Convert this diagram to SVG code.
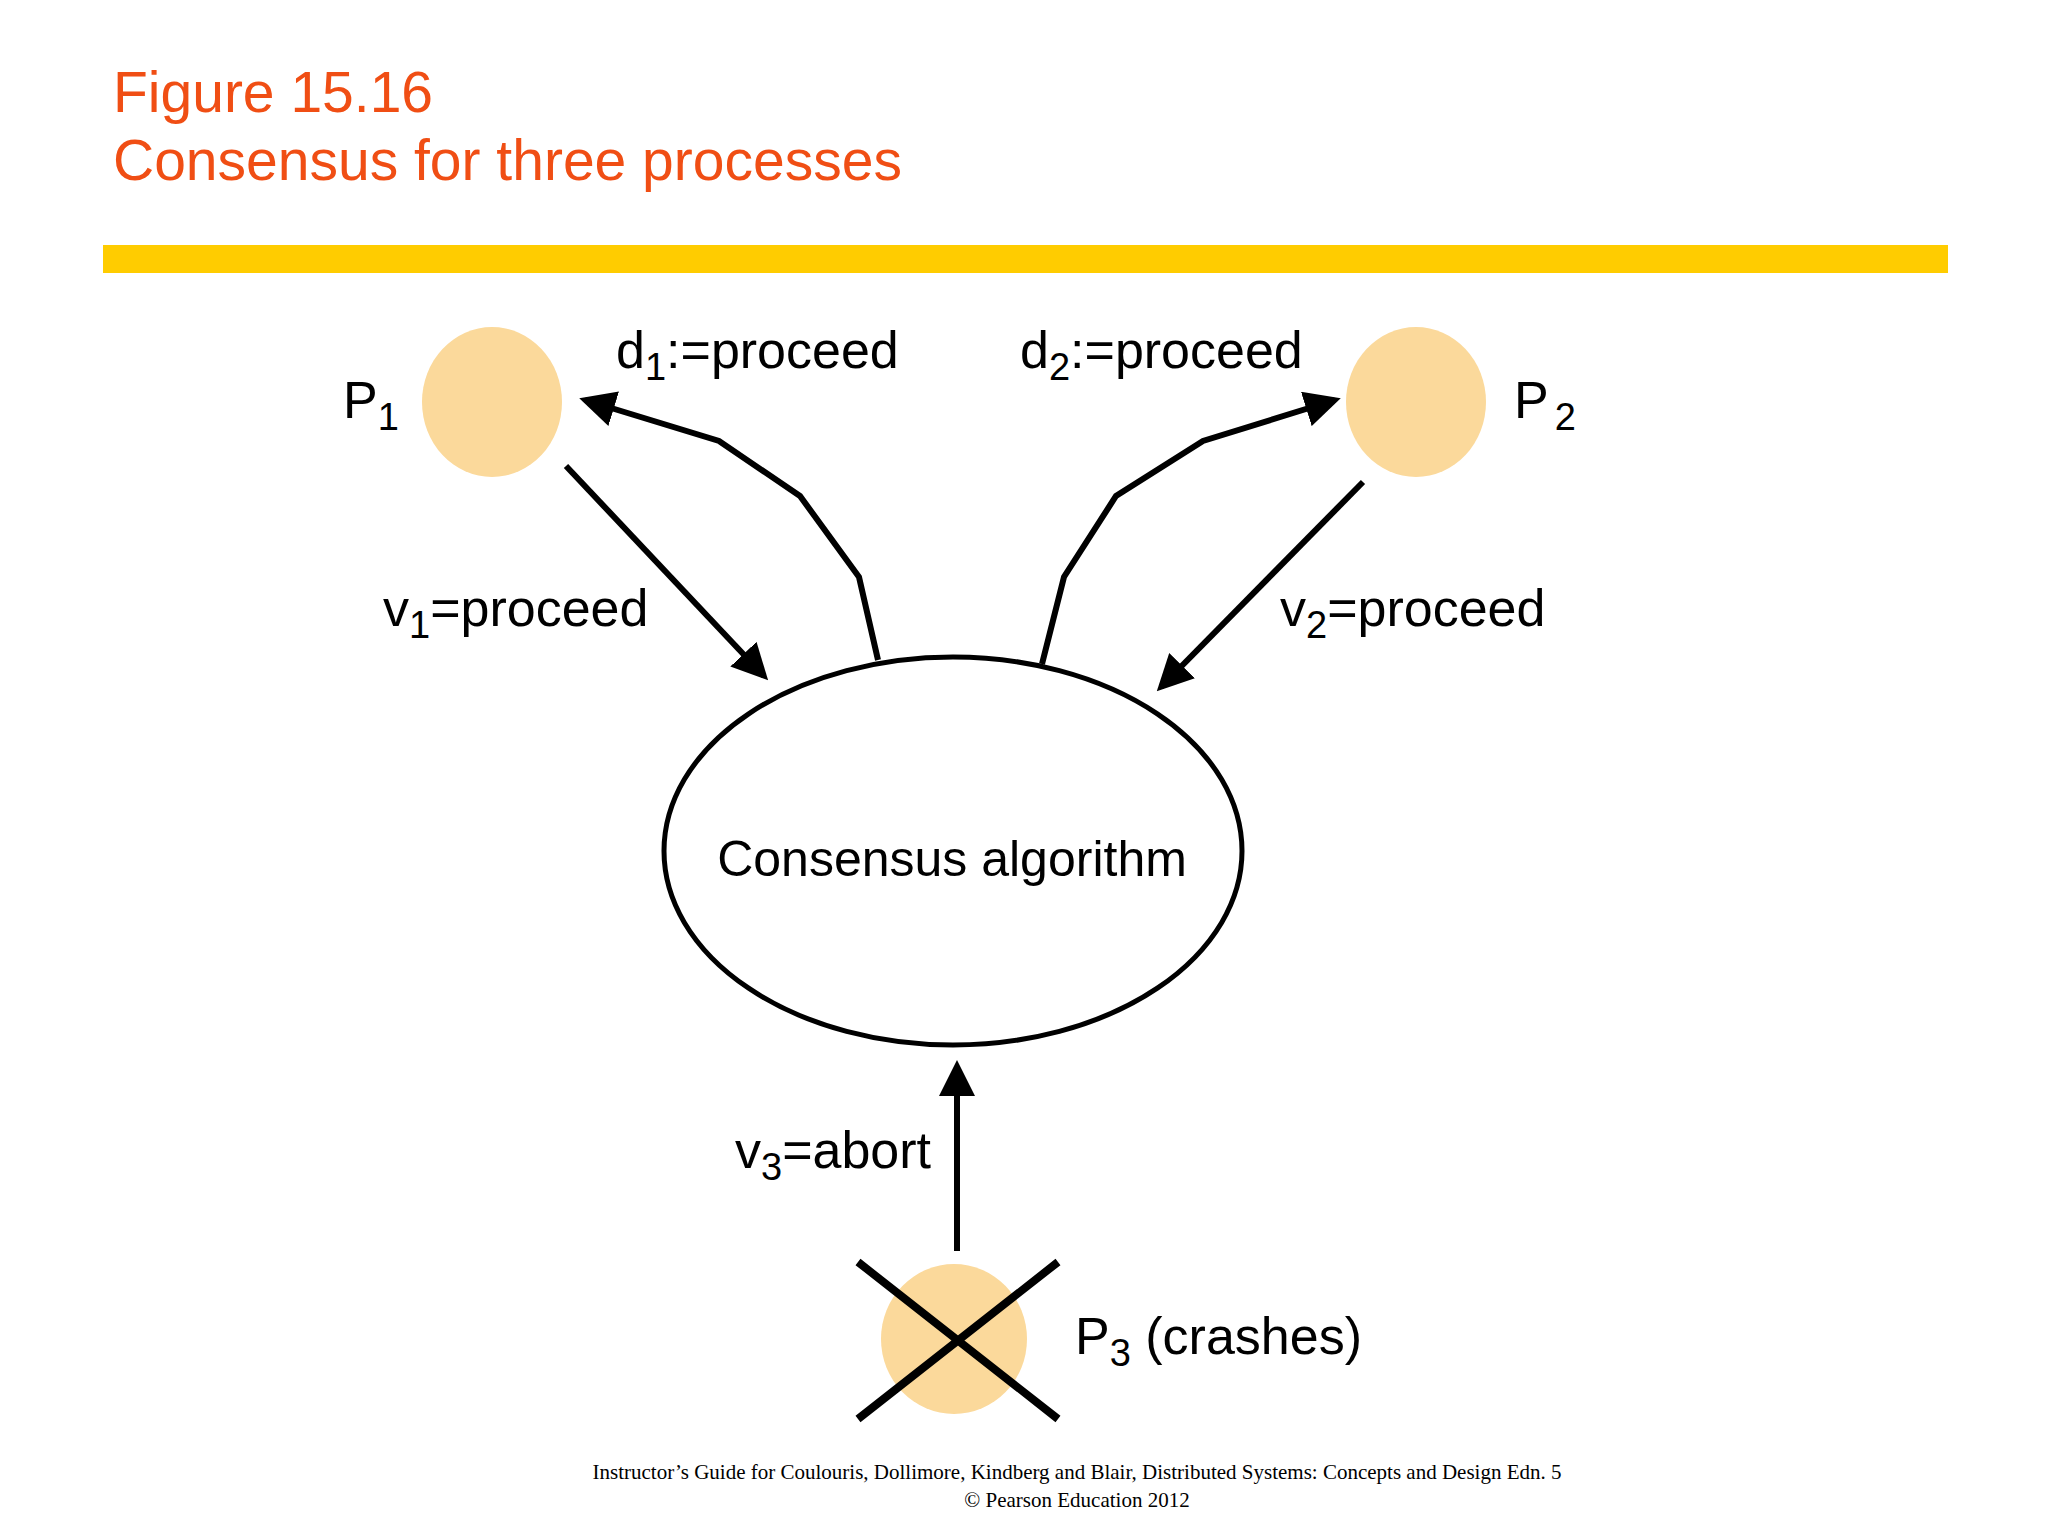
<svg xmlns="http://www.w3.org/2000/svg" width="2048" height="1536" viewBox="0 0 2048 1536">
<style>
.t{font-family:"Liberation Sans",Arial,sans-serif;fill:#000}
.lbl{font-size:52px}
.sub{font-size:38px}
.c{stroke:#000;stroke-width:6;fill:none}
.proc{fill:#FBD99B}
</style>
<defs>
<marker id="ah" markerWidth="6" markerHeight="6" refX="5" refY="3" orient="auto" markerUnits="strokeWidth"><path d="M0,0 L6,3 L0,6 z" fill="#000"/></marker>
</defs>
<rect width="2048" height="1536" fill="#fff"/>
<text x="113" y="112" font-family="Liberation Sans,Arial,sans-serif" font-size="57" fill="#F04E14">Figure 15.16</text>
<text x="113" y="180" font-family="Liberation Sans,Arial,sans-serif" font-size="57" fill="#F04E14">Consensus for three processes</text>
<rect x="103" y="245" width="1845" height="28" fill="#FFCC00"/>
<g id="p1"><ellipse class="proc" cx="492" cy="402" rx="70" ry="75"/><text class="t lbl" x="343" y="418">P<tspan class="sub" dy="12">1</tspan></text></g>
<g id="p2"><ellipse class="proc" cx="1416" cy="402" rx="70" ry="75"/><text class="t lbl" x="1514" y="418">P<tspan class="sub" dx="6" dy="12">2</tspan></text></g>
<g id="p3"><ellipse class="proc" cx="954" cy="1339" rx="73" ry="75"/>
<path d="M858,1262 L1058,1419 M1058,1262 L858,1419" stroke="#000" stroke-width="8"/>
<text class="t lbl" x="1075" y="1354">P<tspan class="sub" dy="12">3</tspan><tspan dy="-12"> (crashes)</tspan></text></g>
<g id="consensus"><ellipse cx="953" cy="851" rx="289" ry="194" fill="#fff" stroke="#000" stroke-width="5"/>
<text class="t" x="952" y="876" font-size="50" text-anchor="middle">Consensus algorithm</text></g>
<g id="connectors">
<path class="c" d="M566,466 L764,676" marker-end="url(#ah)"/>
<path class="c" d="M878,660 L859,577 L800,496 L719,441 L585,400" marker-end="url(#ah)"/>
<path class="c" d="M1042,664 L1064,577 L1116,496 L1203,441 L1335,400" marker-end="url(#ah)"/>
<path class="c" d="M1363,482 L1161,687" marker-end="url(#ah)"/>
<path class="c" d="M957,1251 L957,1066" marker-end="url(#ah)"/>
<text class="t lbl" x="616" y="368">d<tspan class="sub" dy="12">1</tspan><tspan dy="-12">:=proceed</tspan></text>
<text class="t lbl" x="1020" y="368">d<tspan class="sub" dy="12">2</tspan><tspan dy="-12">:=proceed</tspan></text>
<text class="t lbl" x="383" y="626">v<tspan class="sub" dy="12">1</tspan><tspan dy="-12">=proceed</tspan></text>
<text class="t lbl" x="1280" y="626">v<tspan class="sub" dy="12">2</tspan><tspan dy="-12">=proceed</tspan></text>
<text class="t lbl" x="735" y="1168">v<tspan class="sub" dy="12">3</tspan><tspan dy="-12">=abort</tspan></text>
</g>
<text x="1077" y="1479" font-family="Liberation Serif,Times New Roman,serif" font-size="21" text-anchor="middle">Instructor’s Guide for  Coulouris, Dollimore, Kindberg and Blair,  Distributed Systems: Concepts and Design   Edn. 5</text>
<text x="1077" y="1507" font-family="Liberation Serif,Times New Roman,serif" font-size="21" text-anchor="middle">©  Pearson Education 2012</text>
</svg>
